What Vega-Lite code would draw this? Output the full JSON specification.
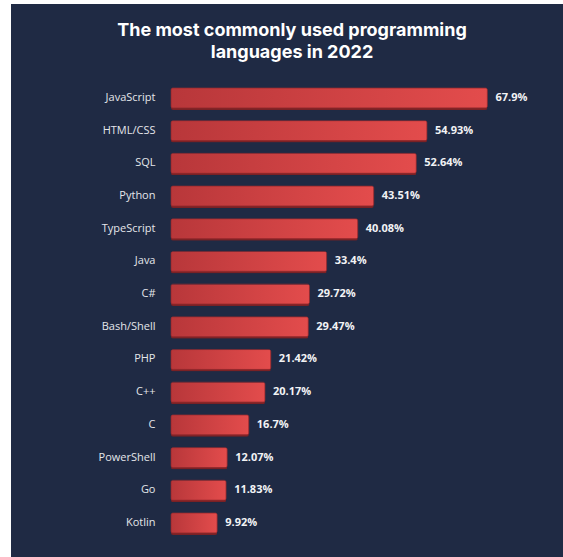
{
  "$schema": "https://vega.github.io/schema/vega-lite/v6.json",
  "width": 552,
  "height": 553,
  "autosize": {"type": "none"},
  "padding": {"left": 11, "top": 4, "right": 0, "bottom": 0},
  "background": "#ffffff",
  "config": {
    "view": {"fill": "#1f2a44", "stroke": null},
    "font": "Open Sans"
  },
  "title": {
    "text": ["The most commonly used programming", "languages in 2022"],
    "font": "Inter",
    "fontSize": 18,
    "fontWeight": 700,
    "color": "#ffffff",
    "anchor": "middle",
    "frame": "group",
    "dx": 5,
    "offset": -58,
    "lineHeight": 22
  },
  "data": {
    "values": [
      {"language": "JavaScript", "value": 67.9},
      {"language": "HTML/CSS", "value": 54.93},
      {"language": "SQL", "value": 52.64},
      {"language": "Python", "value": 43.51},
      {"language": "TypeScript", "value": 40.08},
      {"language": "Java", "value": 33.4},
      {"language": "C#", "value": 29.72},
      {"language": "Bash/Shell", "value": 29.47},
      {"language": "PHP", "value": 21.42},
      {"language": "C++", "value": 20.17},
      {"language": "C", "value": 16.7},
      {"language": "PowerShell", "value": 12.07},
      {"language": "Go", "value": 11.83},
      {"language": "Kotlin", "value": 9.92}
    ]
  },
  "transform": [{"calculate": "datum.value + '%'", "as": "label"}],
  "encoding": {
    "y": {
      "field": "language",
      "type": "nominal",
      "sort": null,
      "scale": {"range": [77.6, 535.3], "paddingInner": 0.39, "paddingOuter": 0.195},
      "axis": {
        "title": null,
        "offset": -160,
        "domain": false,
        "ticks": false,
        "labelPadding": 16,
        "labelColor": "#e4e6ea",
        "labelFontSize": 11,
        "labelFont": "Open Sans"
      }
    },
    "x": {
      "field": "value",
      "type": "quantitative",
      "scale": {"domain": [0, 80], "range": [160, 532.8]},
      "axis": null
    }
  },
  "layer": [
    {
      "mark": {"type": "bar", "color": "#7a2125", "yOffset": 2, "cornerRadius": 2}
    },
    {
      "mark": {
        "type": "bar",
        "cornerRadius": 2,
        "color": {
          "gradient": "linear",
          "x1": 0, "y1": 0, "x2": 1, "y2": 0,
          "stops": [
            {"offset": 0, "color": "#b8373a"},
            {"offset": 1, "color": "#e34c4c"}
          ]
        },
        "stroke": "#9e2e31",
        "strokeWidth": 0.6
      }
    },
    {
      "mark": {
        "type": "text",
        "align": "left",
        "baseline": "middle",
        "dx": 8,
        "fontSize": 11,
        "fontWeight": 700,
        "font": "Open Sans",
        "color": "#f2f3f5"
      },
      "encoding": {"text": {"field": "label"}}
    }
  ]
}
